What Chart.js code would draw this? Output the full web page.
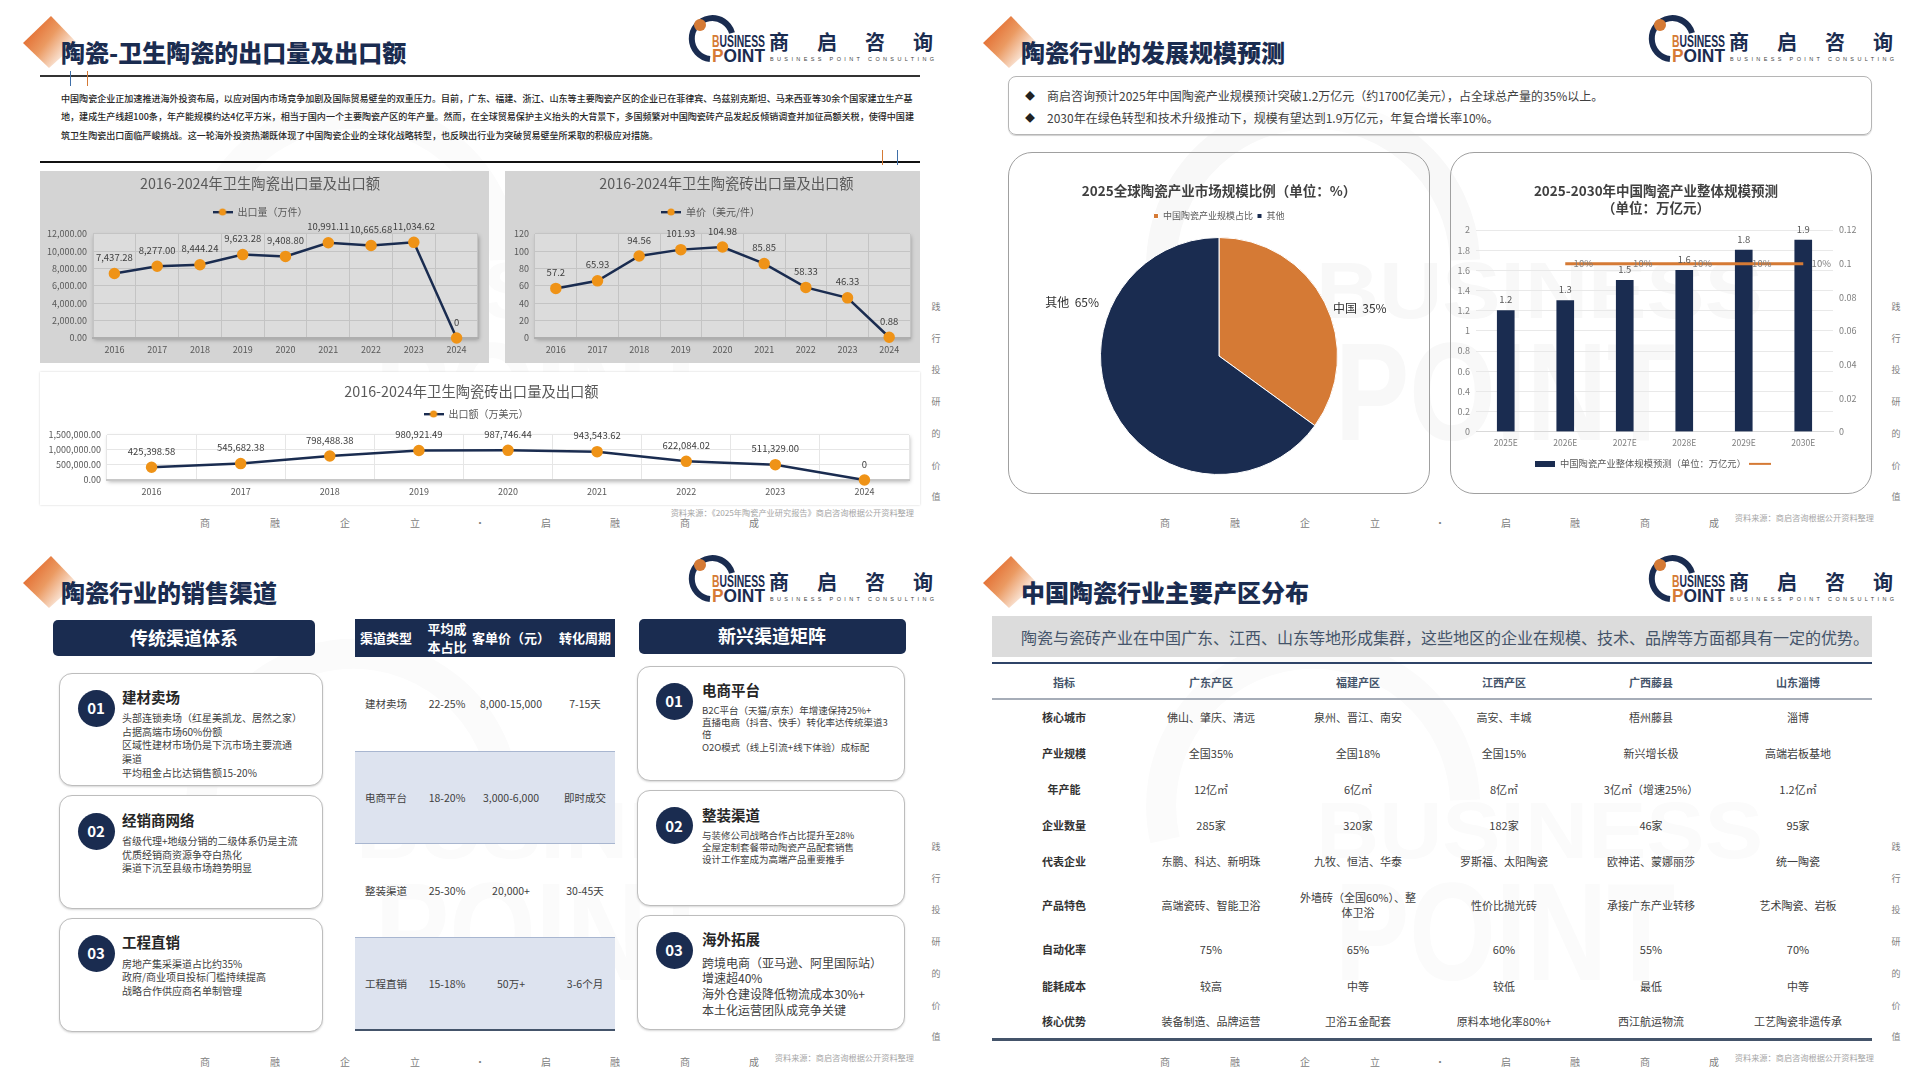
<!DOCTYPE html>
<html lang="zh">
<head>
<meta charset="utf-8">
<title>陶瓷行业</title>
<script src="https://cdn.jsdelivr.net/npm/chart.js@4"></script>
<style>
  html, body { margin: 0; padding: 0; background: #fff; }
  body { width: 1920px; height: 1080px; position: relative; overflow: hidden; font-family: "Noto Sans CJK SC", sans-serif; color: #404040; }
  .t { position: absolute; white-space: nowrap; line-height: 1.2; }
  .box { position: absolute; box-sizing: border-box; }
  canvas { position: absolute; }
  svg { position: absolute; left: 0; top: 0; }
</style>
</head>
<body>
<script>
// chart data
const years = ["2016", "2017", "2018", "2019", "2020", "2021", "2022", "2023", "2024"];
const exportVolume = [7437.28, 8277.0, 8444.24, 9623.28, 9408.8, 10991.11, 10665.68, 11034.62, 0];
const exportVolumeLabels = ["7,437.28", "8,277.00", "8,444.24", "9,623.28", "9,408.80", "10,991.11", "10,665.68", "11,034.62", "0"];
const unitPrice = [57.2, 65.93, 94.56, 101.93, 104.98, 85.85, 58.33, 46.33, 0.88];
const unitPriceLabels = ["57.2", "65.93", "94.56", "101.93", "104.98", "85.85", "58.33", "46.33", "0.88"];
const exportValue = [425398.58, 545682.38, 798488.38, 980921.49, 987746.44, 943543.62, 622084.02, 511329.0, 0];
const exportValueLabels = ["425,398.58", "545,682.38", "798,488.38", "980,921.49", "987,746.44", "943,543.62", "622,084.02", "511,329.00", "0"];

const shareLegend = ["中国陶瓷产业规模占比", "其他"];
const shareValues = [35, 65];
const shareLabels = ["中国  35%", "其他  65%"];

const forecastYears = ["2025E", "2026E", "2027E", "2028E", "2029E", "2030E"];
const forecastScale = [1.2, 1.3, 1.5, 1.6, 1.8, 1.9];
const forecastScaleLabels = ["1.2", "1.3", "1.5", "1.6", "1.8", "1.9"];
const forecastGrowth = [null, 0.1, 0.1, 0.1, 0.1, 0.1];
const forecastGrowthLabels = [null, "10%", "10%", "10%", "10%", "10%"];

// slide text
const panelTitles = ["陶瓷-卫生陶瓷的出口量及出口额", "陶瓷行业的发展规模预测", "陶瓷行业的销售渠道", "中国陶瓷行业主要产区分布"];
const introLines = [
  "中国陶瓷企业正加速推进海外投资布局，以应对国内市场竞争加剧及国际贸易壁垒的双重压力。目前，广东、福建、浙江、山东等主要陶瓷产区的企业已在菲律宾、乌兹别克斯坦、马来西亚等30余个国家建立生产基",
  "地，建成生产线超100条，年产能规模约达4亿平方米，相当于国内一个主要陶瓷产区的年产量。然而，在全球贸易保护主义抬头的大背景下，多国频繁对中国陶瓷砖产品发起反倾销调查并加征高额关税，使得中国建",
  "筑卫生陶瓷出口面临严峻挑战。这一轮海外投资热潮既体现了中国陶瓷企业的全球化战略转型，也反映出行业为突破贸易壁垒所采取的积极应对措施。"
];
const forecastBullets = [
  "商启咨询预计2025年中国陶瓷产业规模预计突破1.2万亿元（约1700亿美元），占全球总产量的35%以上。",
  "2030年在绿色转型和技术升级推动下，规模有望达到1.9万亿元，年复合增长率10%。"
];
const footerChars = ["商", "融", "企", "立", "·", "启", "融", "商", "成"];
const footerX = [205, 275, 345, 415, 480, 546, 615, 685, 754];
const sideChars = ["践", "行", "投", "研", "的", "价", "值"];
const sources = ["资料来源：《2025年陶瓷产业研究报告》商启咨询根据公开资料整理", "资料来源：商启咨询根据公开资料整理", "资料来源：商启咨询根据公开资料整理", "资料来源：商启咨询根据公开资料整理"];

const oldChannels = [
  ["01", "建材卖场", ["头部连锁卖场（红星美凯龙、居然之家）", "占据高端市场60%份额", "区域性建材市场仍是下沉市场主要流通", "渠道", "平均租金占比达销售额15-20%"]],
  ["02", "经销商网络", ["省级代理+地级分销的二级体系仍是主流", "优质经销商资源争夺白热化", "渠道下沉至县级市场趋势明显"]],
  ["03", "工程直销", ["房地产集采渠道占比约35%", "政府/商业项目投标门槛持续提高", "战略合作供应商名单制管理"]]
];
const newChannels = [
  ["01", "电商平台", ["B2C平台（天猫/京东）年增速保持25%+", "直播电商（抖音、快手）转化率达传统渠道3", "倍", "O2O模式（线上引流+线下体验）成标配"]],
  ["02", "整装渠道", ["与装修公司战略合作占比提升至28%", "全屋定制套餐带动陶瓷产品配套销售", "设计工作室成为高端产品重要推手"]],
  ["03", "海外拓展", ["跨境电商（亚马逊、阿里国际站）", "增速超40%", "海外仓建设降低物流成本30%+", "本土化运营团队成竞争关键"]]
];
const channelHead = ["渠道类型", "平均成\n本占比", "客单价（元）", "转化周期"];
const channelRows = [
  ["建材卖场", "22-25%", "8,000-15,000", "7-15天"],
  ["电商平台", "18-20%", "3,000-6,000", "即时成交"],
  ["整装渠道", "25-30%", "20,000+", "30-45天"],
  ["工程直销", "15-18%", "50万+", "3-6个月"]
];
const regionIntro = "陶瓷与瓷砖产业在中国广东、江西、山东等地形成集群，这些地区的企业在规模、技术、品牌等方面都具有一定的优势。";
const regionHead = ["指标", "广东产区", "福建产区", "江西产区", "广西藤县", "山东淄博"];
const regionRows = [
  ["核心城市", "佛山、肇庆、清远", "泉州、晋江、南安", "高安、丰城", "梧州藤县", "淄博"],
  ["产业规模", "全国35%", "全国18%", "全国15%", "新兴增长极", "高端岩板基地"],
  ["年产能", "12亿㎡", "6亿㎡", "8亿㎡", "3亿㎡（增速25%）", "1.2亿㎡"],
  ["企业数量", "285家", "320家", "182家", "46家", "95家"],
  ["代表企业", "东鹏、科达、新明珠", "九牧、恒洁、华泰", "罗斯福、太阳陶瓷", "欧神诺、蒙娜丽莎", "统一陶瓷"],
  ["产品特色", "高端瓷砖、智能卫浴", "外墙砖（全国60%）、整\n体卫浴", "性价比抛光砖", "承接广东产业转移", "艺术陶瓷、岩板"],
  ["自动化率", "75%", "65%", "60%", "55%", "70%"],
  ["能耗成本", "较高", "中等", "较低", "最低", "中等"],
  ["核心优势", "装备制造、品牌运营", "卫浴五金配套", "原料本地化率80%+", "西江航运物流", "工艺陶瓷非遗传承"]
];

const NAVY = "#1a2c50";
const ORANGE = "#d57a35";
const MARKER = "#ef9317";
const page = document.body;

function txt(x, y, text, css, align) {
  const el = document.createElement("div");
  el.className = "t";
  el.textContent = text;
  el.style.cssText = "left:" + x + "px;top:" + y + "px;transform:translate(" + (align === "c" ? "-50%" : align === "r" ? "-100%" : "0") + ",-50%);" + (css || "");
  page.appendChild(el);
  return el;
}
function box(x, y, w, h, css) {
  const el = document.createElement("div");
  el.className = "box";
  el.style.cssText = "left:" + x + "px;top:" + y + "px;width:" + w + "px;height:" + h + "px;" + (css || "");
  page.appendChild(el);
  return el;
}
function canvas(id, x, y, w, h) {
  const c = document.createElement("canvas");
  c.id = id;
  c.width = w;
  c.height = h;
  c.style.cssText = "left:" + x + "px;top:" + y + "px;width:" + w + "px;height:" + h + "px";
  page.appendChild(c);
  return c;
}

// faint watermark, diamond, logo, footer - same on all four panels
function panelFrame(i) {
  const ox = i % 2 ? 960 : 0, oy = i > 1 ? 540 : 0;
  const ghost = i === 1 ? "#f8f8f8" : "#fbfbfb";
  const svg =
    '<svg width="960" height="540" style="left:' + ox + 'px;top:' + oy + 'px" xmlns="http://www.w3.org/2000/svg">' +
    '<defs><linearGradient id="dg' + i + '" x1="0.1" y1="0.2" x2="0.9" y2="0.8"><stop offset="0" stop-color="#e2672a"/><stop offset="0.45" stop-color="#eb9a62"/><stop offset="1" stop-color="#ffffff"/></linearGradient></defs>' +
    '<path d="M 205 300 A 152 152 0 1 1 505 260" fill="none" stroke="' + ghost + '" stroke-width="30"/>' +
    '<text x="356" y="318" font-family="Liberation Sans" font-weight="bold" font-size="80" fill="' + ghost + '" textLength="447" lengthAdjust="spacingAndGlyphs">BUSINESS</text>' +
    '<text x="375" y="440" font-family="Liberation Sans" font-weight="bold" font-size="140" fill="' + ghost + '" textLength="340" lengthAdjust="spacingAndGlyphs">POINT</text>' +
    '<polygon points="51,16 77,43 49,68 23,43" fill="url(#dg' + i + ')"/>' +
    '<path d="M 710 59 A 20.5 20.5 0 1 1 732 33" fill="none" stroke="' + NAVY + '" stroke-width="6"/>' +
    '<circle cx="700" cy="25" r="6" fill="' + ORANGE + '"/>' +
    '<text x="712" y="47" font-family="Liberation Sans" font-size="16" font-weight="bold" fill="' + NAVY + '" textLength="53" lengthAdjust="spacingAndGlyphs"><tspan fill="' + ORANGE + '">B</tspan>USINESS</text>' +
    '<text x="712" y="62" font-family="Liberation Sans" font-size="18" font-weight="bold" fill="' + NAVY + '" textLength="53" lengthAdjust="spacingAndGlyphs"><tspan fill="' + ORANGE + '">P</tspan>OINT</text>' +
    '<text x="770" y="61" font-family="Liberation Sans" font-size="5.5" fill="#444" textLength="164">BUSINESS POINT CONSULTING</text>' +
    "</svg>";
  page.insertAdjacentHTML("beforeend", svg);

  txt(ox + 61, oy + 52, panelTitles[i], "font-size:24px;font-weight:900;color:" + NAVY);
  ["商", "启", "咨", "询"].forEach((ch, k) => {
    txt(ox + 779 + k * 48, oy + 42, ch, "font-size:20px;font-weight:700;color:" + NAVY, "c");
  });
  footerChars.forEach((ch, k) => {
    txt(ox + footerX[k], oy + (i > 1 ? 522 : 523), ch, "font-size:10px;color:#808080", "c");
  });
  sideChars.forEach((ch, k) => {
    txt(ox + 936, oy + 307 + k * 31.7, ch, "font-size:9px;color:#808080", "c");
  });
  txt(ox + 914, oy + (i === 0 ? 513 : i === 1 ? 518 : 517.5), sources[i], "font-size:8.2px;color:#a6a6a6", "r");
}

function rule(x, y, w, h, color) {
  box(x, y, w, h, "background:" + color);
}

[0, 1, 2, 3].forEach(panelFrame);

// panel 1 static part
rule(40, 75, 880, 2, "#333");
rule(40, 161, 880, 2, "#111");
rule(70, 71, 1, 15, "#3f6fa8");
rule(87, 71, 1, 15, ORANGE);
rule(882, 150, 1, 15, ORANGE);
rule(897, 150, 1, 15, "#3f6fa8");
introLines.forEach((line, i) => {
  txt(61, 99 + i * 18.3, line, "font-size:9.05px;color:#262626;font-weight:500");
});
box(40, 171, 449, 192, "background:#d4d4d4");
box(505, 171, 415, 192, "background:#d4d4d4");
box(40, 372, 880, 133, "background:#fff;box-shadow:0 0 2px #cfcfcf");

// panel 2 static part
box(1008, 76, 864, 59, "border:1px solid #b5b5b5;border-radius:8px;background:rgba(255,255,255,.6);box-shadow:0 1px 1px #d0d0d0");
forecastBullets.forEach((line, i) => {
  txt(1030, 96 + i * 22, "◆", "font-size:10px;color:#222", "c");
  txt(1047, 96 + i * 22, line, "font-size:12px;color:#404040");
});
box(1008, 152, 422, 342, "border:1px solid #a0a0a0;border-radius:24px");
box(1450, 152, 422, 342, "border:1px solid #a0a0a0;border-radius:24px");

// panel 3
function channelCards(list, cardX, cardW, cardTops, cardH, circleX, textX, heights, firstLine, lineGap, fontSizes) {
  list.forEach((item, i) => {
    box(cardX, cardTops[i], cardW, cardH[i], "background:#fff;border:1px solid #bdbdbd;border-radius:13px;box-shadow:0 1px 2px #d8d8d8");
    box(circleX - 18.5, heights[i] - 18.5, 37, 37, "background:" + NAVY + ";border-radius:50%");
    txt(circleX, heights[i], item[0], "font-size:15px;font-weight:700;color:#fff", "c");
    txt(textX, heights[i] - 11, item[1], "font-size:14.5px;font-weight:700;color:#262626");
    item[2].forEach((line, k) => {
      txt(textX, firstLine[i] + k * lineGap[i], line, "font-size:" + fontSizes[i] + "px;color:#404040");
    });
  });
}
box(53, 620, 262, 36.4, "background:" + NAVY + ";border-radius:5px");
txt(184, 638, "传统渠道体系", "font-size:18px;font-weight:700;color:#fff", "c");
box(639, 619, 267, 35.4, "background:" + NAVY + ";border-radius:5px");
txt(772, 636, "新兴渠道矩阵", "font-size:18px;font-weight:700;color:#fff", "c");
channelCards(oldChannels, 59, 264, [672.6, 795, 918], [113.4, 113.8, 114.4], 96, 122, [708, 831, 953], [718, 841, 963.5], [13.7, 13.7, 13.7], [10, 10, 10]);
channelCards(newChannels, 637, 268, [665.5, 790, 915], [115.6, 115.7, 115.4], 674, 702, [701, 825.7, 950.3], [711, 836, 962.5], [12.2, 12.2, 15.8], [9.5, 9.5, 12]);

const tableX = [386, 447, 511, 585];
box(355, 619, 260, 38.4, "background:" + NAVY);
channelHead.forEach((head, c) => {
  head.split("\n").forEach((line, k, all) => {
    txt(tableX[c], 638 + (k - (all.length - 1) / 2) * 18, line, "font-size:13px;font-weight:700;color:#fff", "c");
  });
});
const rowTop = [657.4, 750.6, 843.8, 937];
channelRows.forEach((row, r) => {
  if (r % 2) box(355, rowTop[r], 260, 93.2, "background:#dde3ef;border-top:1px solid #a8b6d0;border-bottom:1px solid #a8b6d0");
  row.forEach((cell, c) => {
    txt(tableX[c], rowTop[r] + 47, cell, "font-size:10.5px;color:#404040", "c");
  });
});
rule(355, 1029, 260, 2, "#44546a");

// panel 4
box(992, 616, 880, 41.4, "background:#dcdcdc");
txt(1021, 638, regionIntro, "font-size:16px;color:#44546a");
rule(992, 662, 880, 2, "#2f4468");
rule(992, 698, 880, 2, "#a6adb8");
rule(992, 1038, 880, 3, "#44546a");
const regionX = [1064, 1211, 1358, 1504, 1651, 1798];
const regionY = [718, 753.7, 790, 825.7, 862, 905.7, 950.3, 986.8, 1022.3];
regionHead.forEach((head, c) => {
  txt(regionX[c], 683, head, "font-size:11px;font-weight:700;color:#44546a", "c");
});
regionRows.forEach((row, r) => {
  row.forEach((cell, c) => {
    cell.split("\n").forEach((line, k, all) => {
      txt(regionX[c], regionY[r] + (k - (all.length - 1) / 2) * 15, line, "font-size:11px;color:#404040" + (c === 0 ? ";font-weight:700;color:#333" : ""), "c");
    });
  });
});

// charts
Chart.defaults.font.family = '"Noto Sans CJK SC", sans-serif';
Chart.defaults.font.size = 9;
Chart.defaults.color = "#595959";
Chart.defaults.animation = false;

function swatch(w, h, draw) {
  const c = document.createElement("canvas");
  c.width = w;
  c.height = h;
  draw(c.getContext("2d"));
  return c;
}
const lineDotIcon = swatch(20, 8, (g) => {
  g.fillStyle = NAVY;
  g.fillRect(0, 3, 20, 2.4);
  g.fillStyle = MARKER;
  g.beginPath();
  g.arc(10, 4, 3.6, 0, Math.PI * 2);
  g.fill();
});
const barIcon = swatch(20, 6, (g) => {
  g.fillStyle = NAVY;
  g.fillRect(0, 0, 20, 6);
});
const lineIcon = swatch(22, 4, (g) => {
  g.fillStyle = ORANGE;
  g.fillRect(0, 1, 22, 2);
});

// draws text stored on the dataset next to its point
const markLabels = {
  id: "markLabels",
  afterDatasetsDraw(chart) {
    const ctx = chart.ctx;
    chart.data.datasets.forEach((ds, d) => {
      if (!ds.marks) return;
      const st = ds.markStyle;
      ctx.save();
      ctx.font = st.size + 'px "Noto Sans CJK SC", sans-serif';
      ctx.fillStyle = st.color;
      ctx.textAlign = "center";
      ctx.textBaseline = "middle";
      chart.getDatasetMeta(d).data.forEach((el, i) => {
        if (ds.marks[i] == null) return;
        const p = el.getCenterPoint && chart.config.type === "pie" ? el.getCenterPoint() : el.getProps(["x", "y"], true);
        const dx = Array.isArray(st.dx) ? st.dx[i] : st.dx;
        const dy = Array.isArray(st.dy) ? st.dy[i] : st.dy;
        ctx.fillText(ds.marks[i], p.x + dx, p.y + dy);
      });
      ctx.restore();
    });
  }
};
// title and legend sit off-centre in the source, shift them after layout
const nudgeLegend = {
  id: "nudgeLegend",
  afterLayout(chart, args, opts) {
    const l = chart.legend, t = chart.titleBlock;
    l.left += opts.dx || 0;
    l.right += opts.dx || 0;
    l.top += opts.dy || 0;
    l.bottom += opts.dy || 0;
    t.left += opts.titleDx || 0;
    t.right += opts.titleDx || 0;
  }
};
const plotShade = {
  id: "plotShade",
  beforeDraw(chart, args, opts) {
    if (!opts.color) return;
    const a = chart.chartArea, ctx = chart.ctx;
    ctx.save();
    ctx.shadowColor = "rgba(0,0,0,.28)";
    ctx.shadowBlur = 4;
    ctx.shadowOffsetX = 1;
    ctx.shadowOffsetY = 2;
    ctx.fillStyle = opts.color;
    ctx.fillRect(a.left, a.top, a.width, a.height);
    ctx.restore();
  }
};
Chart.register(markLabels, nudgeLegend, plotShade);

function lineChart(id, pos, cfg) {
  new Chart(canvas(id, pos.x, pos.y, pos.w, pos.h), {
    type: "line",
    data: {
      labels: years,
      datasets: [{
        label: cfg.label,
        data: cfg.values,
        borderColor: NAVY,
        borderWidth: 2.5,
        backgroundColor: MARKER,
        pointBackgroundColor: MARKER,
        pointBorderColor: MARKER,
        pointRadius: 4.5,
        tension: 0,
        clip: false,
        marks: cfg.marks,
        markStyle: { size: 9.5, color: "#404040", dx: 0, dy: -16 }
      }]
    },
    options: {
      responsive: false,
      layout: { padding: { right: pos.padRight } },
      plugins: {
        title: {
          display: true,
          text: cfg.title,
          color: "#595959",
          font: { size: 14.3, weight: "normal" },
          padding: { top: cfg.titleTop, bottom: 43 - cfg.titleTop - 17.2 }
        },
        legend: {
          labels: { usePointStyle: true, pointStyle: lineDotIcon, pointStyleWidth: 20, padding: 0, font: { size: 10 }, color: "#595959" }
        },
        nudgeLegend: cfg.nudge,
        plotShade: { color: cfg.shade },
        tooltip: { enabled: false }
      },
      scales: {
        x: {
          offset: true,
          grid: { offset: true, color: cfg.grid, drawTicks: false },
          border: { color: cfg.axis, width: 2 },
          ticks: { padding: 6, autoSkip: false, maxRotation: 0, color: "#595959" },
          afterFit(s) { s.height = 25; }
        },
        y: {
          min: 0,
          max: cfg.max,
          grid: { color: cfg.grid, drawTicks: false },
          border: { display: false },
          ticks: { stepSize: cfg.step, padding: 6, color: "#595959", callback: cfg.tick },
          afterFit(s) { s.width = cfg.yWidth; }
        }
      }
    }
  });
}
const money = (v) => v.toLocaleString("en-US", { minimumFractionDigits: 2, maximumFractionDigits: 2 });

lineChart("chartVolume", { x: 42, y: 171, w: 447, h: 192, padRight: 11 }, {
  label: "出口量（万件）", title: "2016-2024年卫生陶瓷出口量及出口额",
  values: exportVolume, marks: exportVolumeLabels, max: 12000, step: 2000, tick: money, yWidth: 51,
  titleTop: 4.4, nudge: { dx: 0, dy: -7 }, shade: "#dcdcdc", grid: "#c4c4c4", axis: "#aeaeae"
});
lineChart("chartPrice", { x: 505, y: 171, w: 415, h: 192, padRight: 10 }, {
  label: "单价（美元/件）", title: "2016-2024年卫生陶瓷砖出口量及出口额",
  values: unitPrice, marks: unitPriceLabels, max: 120, step: 20, tick: (v) => v, yWidth: 30,
  titleTop: 4.4, nudge: { dx: 3, dy: -7, titleDx: 19 }, shade: "#dcdcdc", grid: "#c4c4c4", axis: "#aeaeae"
});
lineChart("chartValue", { x: 34, y: 372, w: 886, h: 133, padRight: 11 }, {
  label: "出口额（万美元）", title: "2016-2024年卫生陶瓷砖出口量及出口额",
  values: exportValue, marks: exportValueLabels, max: 1500000, step: 500000, tick: money, yWidth: 73,
  titleTop: 11.4, nudge: { dx: 4.5, dy: -6 }, shade: "#ffffff", grid: "#e6e6e6", axis: "#c8c8c8"
});

new Chart(canvas("chartShare", 1008, 152, 422, 342), {
  type: "pie",
  data: {
    labels: shareLegend,
    datasets: [{
      data: shareValues,
      backgroundColor: [ORANGE, NAVY],
      borderColor: "#fff",
      borderWidth: 1,
      marks: shareLabels,
      markStyle: { size: 12, color: "#333", dx: [88, -94], dy: [-21, -80] }
    }]
  },
  options: {
    responsive: false,
    layout: { padding: { bottom: 19 } },
    plugins: {
      title: {
        display: true,
        text: "2025全球陶瓷产业市场规模比例（单位：%）",
        color: "#404040",
        font: { size: 13.5, weight: "bold" },
        padding: { top: 30.9, bottom: 14.9 }
      },
      legend: { labels: { boxWidth: 5, boxHeight: 5, padding: 4, font: { size: 9 }, color: "#595959" } },
      nudgeLegend: { dx: 0, dy: -6.5 },
      tooltip: { enabled: false }
    }
  }
});

new Chart(canvas("chartForecast", 1450, 152, 412, 342), {
  data: {
    labels: forecastYears,
    datasets: [
      {
        type: "line",
        label: " ",
        data: forecastGrowth,
        yAxisID: "y1",
        borderColor: ORANGE,
        borderWidth: 3,
        pointRadius: 0,
        order: 1,
        marks: forecastGrowthLabels,
        markStyle: { size: 9.5, color: "#7f7f7f", dx: 18, dy: 0 }
      },
      {
        type: "bar",
        label: "中国陶瓷产业整体规模预测（单位：万亿元）",
        data: forecastScale,
        yAxisID: "y",
        backgroundColor: NAVY,
        barThickness: 17,
        order: 2,
        marks: forecastScaleLabels,
        markStyle: { size: 9.5, color: "#595959", dx: 0, dy: -11 }
      }
    ]
  },
  options: {
    responsive: false,
    layout: { padding: { bottom: 19 } },
    plugins: {
      title: {
        display: true,
        text: ["2025-2030年中国陶瓷产业整体规模预测", "（单位：万亿元）"],
        color: "#404040",
        font: { size: 13.5, weight: "bold", lineHeight: 1.26 },
        padding: { top: 30.5, bottom: 13.5 }
      },
      legend: {
        position: "bottom",
        labels: {
          usePointStyle: true,
          pointStyleWidth: 20,
          padding: 4,
          font: { size: 9.3 },
          color: "#595959",
          generateLabels(chart) {
            return [
              { text: chart.data.datasets[1].label, pointStyle: barIcon, fontColor: "#595959", datasetIndex: 1, hidden: false, lineWidth: 0 },
              { text: chart.data.datasets[0].label, pointStyle: lineIcon, fontColor: "#595959", datasetIndex: 0, hidden: false, lineWidth: 0 }
            ];
          }
        }
      },
      nudgeLegend: { dx: 0, dy: 3.5 },
      tooltip: { enabled: false }
    },
    scales: {
      x: {
        offset: true,
        grid: { display: false, drawTicks: false },
        border: { color: "#d9d9d9" },
        ticks: { padding: 6, color: "#7f7f7f", font: { size: 8.5 }, autoSkip: false, maxRotation: 0 },
        afterFit(s) { s.height = 20; }
      },
      y: {
        min: 0,
        max: 2,
        grid: { color: "#e9e9e9", drawTicks: false },
        border: { display: false },
        ticks: { stepSize: 0.2, padding: 6, color: "#7f7f7f", callback: (v) => Math.round(v * 10) / 10 },
        afterFit(s) { s.width = 26; }
      },
      y1: {
        position: "right",
        min: 0,
        max: 0.12,
        grid: { display: false, drawTicks: false },
        border: { display: false },
        ticks: { stepSize: 0.02, padding: 6, color: "#7f7f7f", callback: (v) => Math.round(v * 100) / 100 },
        afterFit(s) { s.width = 29; }
      }
    }
  }
});
</script>
</body>
</html>
